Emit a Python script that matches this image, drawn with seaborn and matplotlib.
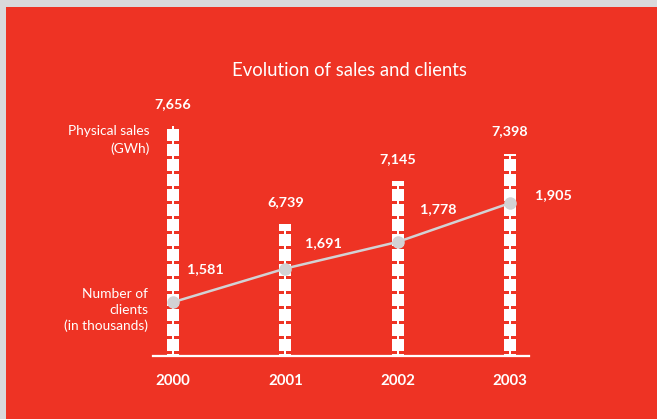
import numpy as np
import pandas as pd
import seaborn as sns
import matplotlib.pyplot as plt
from matplotlib.patches import Rectangle

# data
years = ["2000", "2001", "2002", "2003"]
sales_gwh = [7656, 6739, 7145, 7398]
clients_k = [1581, 1691, 1778, 1905]

# offsets (px) of the client labels from their points
client_label_dx = [32, 38, 41, 43]
client_label_dy = [33, 25, 33, 8]

RED = "#EE3324"
GREY_BG = "#D9D9DB"
LINE_GREY = "#D2D2D4"
DPI = 90

sns.set_style("white")
plt.rcParams["font.family"] = ["Lato", "DejaVu Sans"]
plt.rcParams["hatch.color"] = RED
plt.rcParams["hatch.linewidth"] = 2.4

fig = plt.figure(figsize=(657 / DPI, 419 / DPI), dpi=DPI, facecolor=GREY_BG)
fig.patches.append(Rectangle((6 / 657, 0), 1, 412 / 419, transform=fig.transFigure,
                             facecolor=RED, edgecolor="none", zorder=-10))

ax = fig.add_axes([153 / 657, 63 / 419, 376 / 657, 256 / 419])
ax.set_facecolor("none")

df = pd.DataFrame({"year": years, "sales": sales_gwh, "clients": clients_k})

# zipper-like bars: white bar with red hatch notches + thin white spine on top
sns.barplot(data=df, x="year", y="sales", color="white", width=0.107,
            saturation=1, ax=ax)
for p in ax.patches:
    p.set_hatch("-")
    p.set_edgecolor(RED)
    p.set_linewidth(0)
n_wide = len(ax.patches)
sns.barplot(data=df, x="year", y="sales", color="white", width=0.02,
            saturation=1, ax=ax)
for p in ax.patches[n_wide:]:
    p.set_linewidth(0)

ax.set_xlim(-0.178, 3.169)
ax.set_ylim(5504, 7899)
ax.set_xlabel("")
ax.set_ylabel("")
ax.set_yticks([])
for s in ["top", "left", "right"]:
    ax.spines[s].set_visible(False)
ax.spines["bottom"].set_color("white")
ax.spines["bottom"].set_linewidth(1.8)
ax.tick_params(axis="x", length=0, pad=14, labelcolor="white", labelsize=12)
for lab in ax.get_xticklabels():
    lab.set_fontweight("bold")

for i, v in enumerate(sales_gwh):
    ax.annotate(f"{v:,}", (i, v), xytext=(0, 22 * 0.8), textcoords="offset points",
                ha="center", va="center", color="white", fontsize=11.5, fontweight="bold")

# clients line on a twin axis
ax2 = ax.twinx()
ax2.set_facecolor("none")
sns.lineplot(x=np.arange(len(years)), y=clients_k, ax=ax2, color=LINE_GREY,
             linewidth=2, marker="o", markersize=10, markeredgewidth=0,
             markerfacecolor=LINE_GREY)
ax2.set_ylim(1405, 2242)
ax2.set_yticks([])
ax2.set_xlim(-0.178, 3.169)
for s in ax2.spines.values():
    s.set_visible(False)

for i, v in enumerate(clients_k):
    ax2.annotate(f"{v:,}", (i, v), xytext=(client_label_dx[i] * 0.8, client_label_dy[i] * 0.8),
                 textcoords="offset points", ha="center", va="center",
                 color="white", fontsize=11.5, fontweight="bold")

ax.text(-0.008, 0.845, "Physical sales\n(GWh)", transform=ax.transAxes,
        ha="right", va="center", color="white", fontsize=11, linespacing=1.5)
ax.text(-0.013, 0.18, "Number of\nclients\n(in thousands)", transform=ax.transAxes,
        ha="right", va="center", color="white", fontsize=11, linespacing=1.38)

fig.text(349 / 657, 1 - 70 / 419, "Evolution of sales and clients", ha="center",
         va="center", color="white", fontsize=14.8)

fig.savefig("out.png", dpi=DPI, facecolor=fig.get_facecolor())
